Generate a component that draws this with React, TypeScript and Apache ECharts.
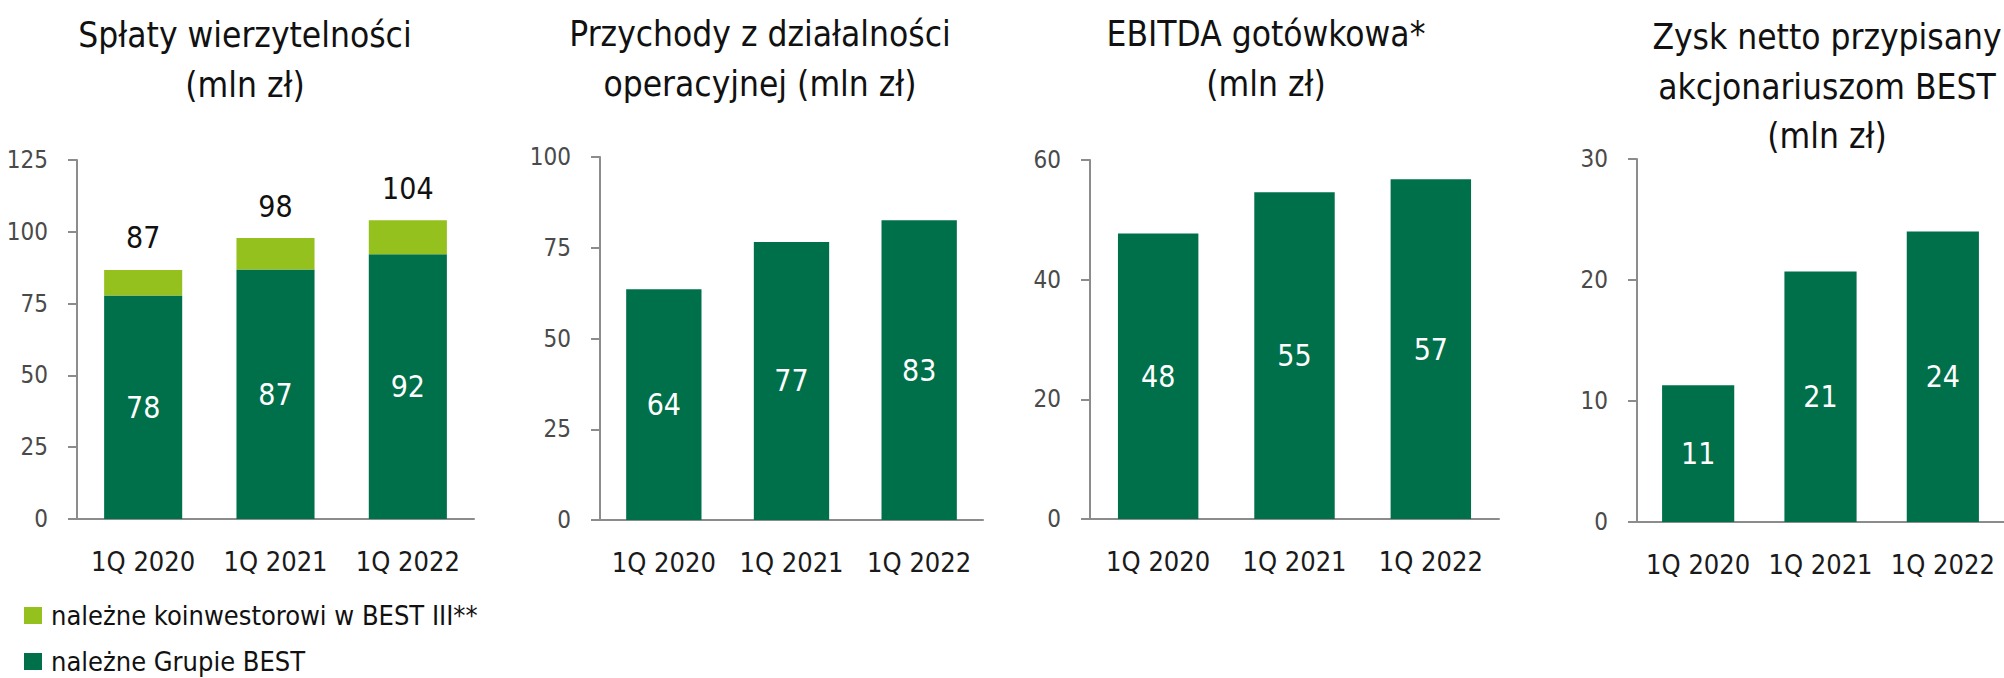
import React, { useEffect, useRef } from "react";
import * as echarts from "echarts";

const categories = ["1Q 2020", "1Q 2021", "1Q 2022"];
const splatyGrupa = [77.8, 86.9, 92.2];
const splatyKoinwestor = [8.9, 10.9, 11.8];
const przychody = [63.6, 76.6, 82.6];
const ebitda = [47.7, 54.6, 56.8];
const zysk = [11.3, 20.7, 24.0];

const legendKoinwestor = "należne koinwestorowi w BEST III**";
const legendGrupa = "należne Grupie BEST";

const titles = [
  { lines: ["Spłaty wierzytelności", "(mln zł)"], x: 245, baseline: 47 },
  { lines: ["Przychody z działalności", "operacyjnej (mln zł)"], x: 760, baseline: 46 },
  { lines: ["EBITDA gotówkowa*", "(mln zł)"], x: 1266, baseline: 46 },
  { lines: ["Zysk netto przypisany", "akcjonariuszom BEST", "(mln zł)"], x: 1827, baseline: 49 },
];

const axisMax = [125, 100, 60, 30];
const axisInterval = [25, 25, 20, 10];

const DARK = "#00704A";
const LIGHT = "#95C11F";
const AXIS = "#8C8C8C";
const FONT = "'DejaVu Sans Condensed', Roboto, sans-serif";

export default function App() {
  const ref = useRef<HTMLDivElement>(null);
  useEffect(() => {
    if (!ref.current) return;
    const chart = echarts.init(ref.current, null, { renderer: "svg" });
    const grids = [
      { left: 77, top: 160, width: 397, height: 359 },
      { left: 600, top: 157, width: 383, height: 363 },
      { left: 1090, top: 160, width: 409, height: 359 },
      { left: 1637, top: 159, width: 383, height: 363 },
    ];
    const xAxis = grids.map((_, i) => ({
      type: "category",
      gridIndex: i,
      data: categories,
      axisTick: { show: false },
      axisLine: { lineStyle: { color: AXIS, width: 2 } },
      axisLabel: { color: "#1a1a1a", fontSize: 27, fontFamily: FONT, margin: 29, interval: 0 },
    }));
    const yAxis = grids.map((_, i) => ({
      type: "value",
      gridIndex: i,
      min: 0,
      max: axisMax[i],
      interval: axisInterval[i],
      splitLine: { show: false },
      axisLine: { show: true, lineStyle: { color: AXIS, width: 2 } },
      axisTick: { show: true, length: 9, lineStyle: { color: AXIS, width: 2 } },
      axisLabel: { color: "#4a4a4a", fontSize: 24, fontFamily: FONT, margin: 29 },
    }));
    const innerLabel = {
      show: true,
      position: "inside",
      color: "#ffffff",
      fontSize: 30,
      fontFamily: FONT,
      formatter: (p: any) => Number(p.value).toFixed(0),
    };
    const single = [przychody, ebitda, zysk];
    const series: any[] = [
      {
        name: legendGrupa,
        type: "bar",
        stack: "s",
        xAxisIndex: 0,
        yAxisIndex: 0,
        data: splatyGrupa,
        barWidth: "59%",
        itemStyle: { color: DARK },
        label: innerLabel,
      },
      {
        name: legendKoinwestor,
        type: "bar",
        stack: "s",
        xAxisIndex: 0,
        yAxisIndex: 0,
        data: splatyKoinwestor,
        barWidth: "59%",
        itemStyle: { color: LIGHT },
        label: {
          show: true,
          position: "top",
          distance: 17,
          color: "#111111",
          fontSize: 30,
          fontFamily: FONT,
          formatter: (p: any) =>
            (splatyGrupa[p.dataIndex] + splatyKoinwestor[p.dataIndex]).toFixed(0),
        },
      },
      ...single.map((d, k) => ({
        type: "bar",
        xAxisIndex: k + 1,
        yAxisIndex: k + 1,
        data: d,
        barWidth: "59%",
        itemStyle: { color: DARK },
        label: innerLabel,
      })),
    ];
    const graphic: any[] = [];
    titles.forEach((t) => {
      t.lines.forEach((line, j) => {
        graphic.push({
          type: "text",
          x: t.x,
          y: t.baseline - 12 + j * 49.5,
          style: {
            text: line,
            fill: "#111111",
            font: `35px ${FONT}`,
            align: "center",
            verticalAlign: "middle",
          },
        });
      });
    });
    chart.setOption({
      animation: false,
      textStyle: { fontFamily: FONT },
      grid: grids,
      xAxis,
      yAxis,
      series,
      graphic,
      legend: {
        orient: "vertical",
        left: 24,
        top: 602,
        padding: 0,
        itemWidth: 18,
        itemHeight: 17,
        itemGap: 19,
        icon: "rect",
        data: [legendKoinwestor, legendGrupa],
        textStyle: { color: "#111111", fontSize: 27, fontFamily: FONT, padding: [0, 0, 0, 4] },
      },
    });
    return () => chart.dispose();
  }, []);
  return (
    <div
      ref={ref}
      style={{ position: "fixed", left: 0, top: 0, width: 2004, height: 678, background: "#fff" }}
    />
  );
}
